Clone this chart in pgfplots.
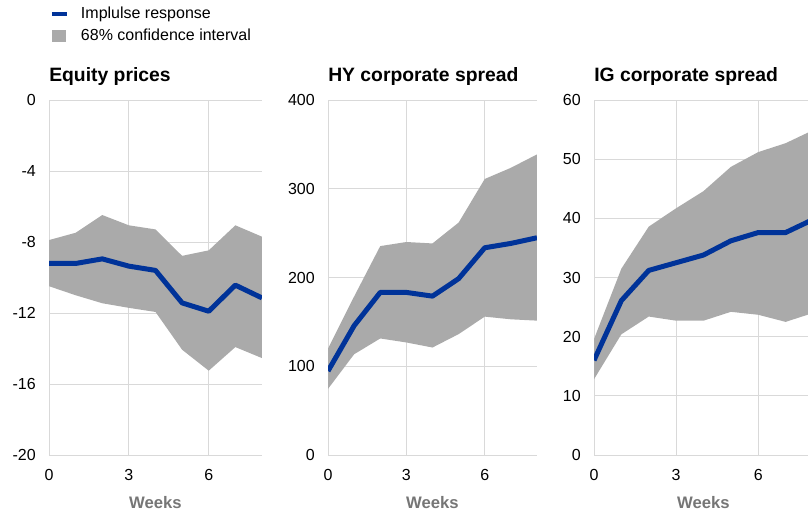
\documentclass[border=0pt]{standalone}
\usepackage{fontspec}
\setmainfont{Liberation Sans}
\usepackage{pgfplots}
\pgfplotsset{compat=1.18}

\definecolor{irfblue}{RGB}{0,51,153}
\definecolor{bandgray}{RGB}{170,170,170}
\definecolor{gridgray}{RGB}{217,217,217}
\definecolor{labelgray}{RGB}{118,118,118}

\pgfplotsset{
  panel/.style={
    scale only axis,
    height=266.25pt,
    anchor=south west,
    xmin=0, xmax=8,
    xtick={0,3,6},
    axis lines*=left,
    axis line style={gridgray, line width=0.75pt},
    grid=major,
    grid style={gridgray, line width=0.75pt},
    major tick length=0pt,
    tick label style={font=\fontsize{12}{14}\selectfont},
    /pgf/number format/assume math mode=true,
    yticklabel style={anchor=east, inner sep=0pt, xshift=-9.75pt},
    xticklabel style={anchor=north, inner sep=0pt, yshift=-10.7pt},
    title style={at={(rel axis cs:0,1)}, anchor=base west, yshift=8.25pt,
      inner sep=0pt, font=\bfseries\fontsize{14.5}{16}\selectfont},
    xlabel={Weeks},
    xlabel style={at={(rel axis cs:0.5,0)}, anchor=base, yshift=-39.75pt,
      inner sep=0pt, font=\bfseries\fontsize{12.5}{14}\selectfont, text=labelgray},
  },
  band/.style={fill=bandgray, draw=none, area legend},
  irf/.style={irfblue, line width=3.75pt, line join=round},
}

\begin{document}
\begin{tikzpicture}
\path[use as bounding box] (0pt,0pt) rectangle (606pt,-383.25pt);

% Equity prices
\begin{axis}[panel,
    at={(36.75pt,-341.25pt)}, width=159.75pt,
    ymin=-20, ymax=0, ytick={-20,-16,-12,-8,-4,0},
    title={Equity prices},
    reverse legend,
    legend cell align=left,
    legend style={at={(rel axis cs:0,1)}, anchor=north west,
      xshift=0.75pt, yshift=69.5pt, draw=none, fill=none,
      inner sep=0pt, outer sep=0pt, row sep=6pt,
      font=\fontsize{12}{14}\selectfont, nodes={inner sep=0pt},
      /tikz/every odd column/.append style={column sep=9pt}},
  ]
\addplot[band,
  legend image code/.code={\fill[bandgray] (0pt,-4.5pt) rectangle (10.5pt,4.5pt);}]
  coordinates {
  (0,-7.89) (1,-7.48) (2,-6.48) (3,-7.06) (4,-7.29) (5,-8.78) (6,-8.47) (7,-7.06) (8,-7.70)
  (8,-14.54) (7,-13.92) (6,-15.25) (5,-14.07) (4,-11.94) (3,-11.71) (2,-11.45) (1,-11.00) (0,-10.49)
} -- cycle;
\addlegendentry{68\% confidence interval}
\addplot[irf,
  legend image code/.code={\draw[irfblue, line width=3pt] (0pt,0pt) -- (11.25pt,0pt);}]
  coordinates {
  (0,-9.21) (1,-9.21) (2,-8.95) (3,-9.36) (4,-9.60) (5,-11.43) (6,-11.90) (7,-10.43) (8,-11.15)
};
\addlegendentry{Implulse response}
\end{axis}

% HY corporate spread
\begin{axis}[panel,
    at={(246pt,-341.25pt)}, width=156.75pt,
    ymin=0, ymax=400, ytick={0,100,200,300,400},
    title={HY corporate spread},
  ]
\addplot[band] coordinates {
  (0,120) (1,178.6) (2,235.4) (3,240) (4,238.4) (5,261.9) (6,311) (7,323.6) (8,338.7)
  (8,151.4) (7,152.9) (6,155.9) (5,136.2) (4,121.1) (3,126.8) (2,131.3) (1,113.5) (0,74.5)
} -- cycle;
\addplot[irf] coordinates {
  (0,94.6) (1,145.7) (2,183.2) (3,183.2) (4,179) (5,198.7) (6,233.5) (7,238.4) (8,244.8)
};
\end{axis}

% IG corporate spread
\begin{axis}[panel,
    at={(445.5pt,-341.25pt)}, width=164.25pt,
    ymin=0, ymax=60, ytick={0,10,20,30,40,50,60},
    title={IG corporate spread},
  ]
\addplot[band] coordinates {
  (0,19.6) (1,31.5) (2,38.6) (3,41.7) (4,44.6) (5,48.7) (6,51.2) (7,52.7) (8,54.9)
  (8,24.0) (7,22.5) (6,23.7) (5,24.2) (4,22.7) (3,22.7) (2,23.4) (1,20.4) (0,12.8)
} -- cycle;
\addplot[irf] coordinates {
  (0,16.0) (1,26.1) (2,31.2) (3,32.5) (4,33.8) (5,36.2) (6,37.6) (7,37.6) (8,39.8)
};
\end{axis}
\end{tikzpicture}
\end{document}
